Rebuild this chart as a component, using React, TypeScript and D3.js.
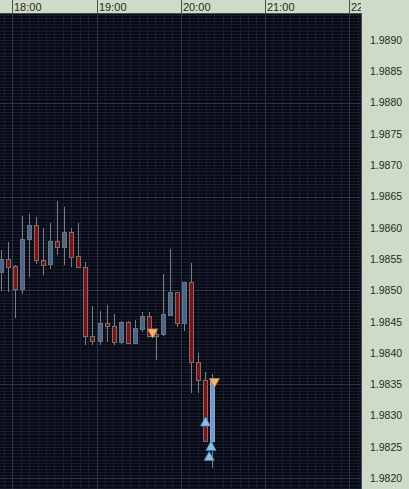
import React from "react";
import * as d3 from "d3";

const candleTimes = ["17:50","17:55","18:00","18:05","18:10","18:15","18:20","18:25","18:30","18:35","18:40","18:45","18:50","18:55","19:00","19:05","19:10","19:15","19:20","19:25","19:30","19:35","19:40","19:45","19:50","19:55","20:00","20:05","20:10","20:15","20:20"];
const opens = [1.98530,1.98550,1.98539,1.98503,1.98582,1.98604,1.98548,1.98542,1.98579,1.98570,1.98593,1.98555,1.98537,1.98427,1.98420,1.98448,1.98443,1.98417,1.98450,1.98416,1.98439,1.98459,1.98430,1.98430,1.98461,1.98497,1.98448,1.98513,1.98385,1.98357,1.98259];
const highs = [1.98565,1.98578,1.98540,1.98619,1.98622,1.98617,1.98600,1.98607,1.98643,1.98633,1.98600,1.98608,1.98545,1.98475,1.98467,1.98477,1.98462,1.98452,1.98452,1.98453,1.98465,1.98465,1.98438,1.98526,1.98566,1.98497,1.98514,1.98544,1.98400,1.98370,1.98367];
const lows = [1.98499,1.98498,1.98456,1.98494,1.98522,1.98543,1.98524,1.98535,1.98557,1.98540,1.98538,1.98536,1.98413,1.98413,1.98413,1.98418,1.98413,1.98414,1.98414,1.98414,1.98434,1.98426,1.98389,1.98427,1.98460,1.98442,1.98436,1.98337,1.98337,1.98258,1.98217];
const closes = [1.98550,1.98538,1.98503,1.98582,1.98604,1.98548,1.98541,1.98579,1.98570,1.98593,1.98554,1.98537,1.98427,1.98420,1.98448,1.98443,1.98417,1.98450,1.98416,1.98440,1.98459,1.98428,1.98429,1.98462,1.98497,1.98448,1.98513,1.98385,1.98357,1.98259,1.98357];

const sellTimes = ["19:40:00","20:24:00"];
const sellPrices = [1.98424,1.98345];
const buyTimes = ["20:17:40","20:21:36","20:20:18"];
const buyPrices = [1.98298,1.98259,1.98243];

const hourLabels = ["18:00","19:00","20:00","21:00","22:00"];
const priceLabels = [1.9890,1.9885,1.9880,1.9875,1.9870,1.9865,1.9860,1.9855,1.9850,1.9845,1.9840,1.9835,1.9830,1.9825,1.9820];

const W = 409, H = 489;
const plotRight = 361;
const plotTop = 13;

const parseT = (s: string) => {
  const p = s.split(":").map(Number);
  return new Date(2020, 0, 1, p[0], p[1], p[2] || 0);
};

export default function App() {
  const pxPerMin = 84.2 / 60;
  const x = d3.scaleTime()
    .domain([parseT("18:00"), parseT("22:00")])
    .range([12.3, 12.3 + 240 * pxPerMin]);
  const y = d3.scaleLinear().domain([1.9820, 1.9890]).range([478.3, 40]);

  const vLines: { x: number; bold: boolean }[] = [];
  const t0 = parseT("17:00").getTime();
  for (let k = 0; k <= 60; k++) {
    const t = new Date(t0 + k * 6 * 60000);
    const xx = x(t);
    if (xx < 0 || xx > plotRight) continue;
    vLines.push({ x: Math.round(xx) + 0.5, bold: k % 10 === 0 });
  }
  const hLines: { y: number; bold: boolean }[] = [];
  for (let k = -40; k <= 200; k++) {
    const p = 1.9820 + k * 0.00005;
    const yy = y(p);
    if (yy < plotTop || yy > H) continue;
    hLines.push({ y: Math.round(yy) + 0.5, bold: ((k % 30) + 30) % 30 === 0 });
  }

  const candles = candleTimes.map((t, i) => ({
    t: parseT(t), o: opens[i], h: highs[i], l: lows[i], c: closes[i], i,
  }));
  const last = candles.length - 1;

  const tri = (cx: number, tipY: number, down: boolean) => {
    const w = 5, h = 9;
    return down
      ? `M${cx - w},${tipY - h} L${cx + w},${tipY - h} L${cx},${tipY} Z`
      : `M${cx - w},${tipY + h} L${cx + w},${tipY + h} L${cx},${tipY} Z`;
  };

  const font = "'Liberation Sans', Arial, sans-serif";

  return (
    <svg width={W} height={H} style={{ position: "fixed", left: 0, top: 0, display: "block" }}>
      <defs>
        <clipPath id="plotClip">
          <rect x={0} y={plotTop} width={plotRight} height={H - plotTop} />
        </clipPath>
        <clipPath id="headClip">
          <rect x={0} y={0} width={plotRight} height={plotTop} />
        </clipPath>
      </defs>
      <rect x={0} y={0} width={W} height={H} fill="#cddbc8" />
      <rect x={0} y={plotTop} width={plotRight} height={H - plotTop} fill="#090912" />
      <g clipPath="url(#plotClip)" shapeRendering="crispEdges">
        {hLines.filter(l => !l.bold).map((l, i) => (
          <line key={"h" + i} x1={0} x2={plotRight} y1={l.y} y2={l.y} stroke="#171d30" />
        ))}
        {vLines.filter(l => !l.bold).map((l, i) => (
          <line key={"v" + i} x1={l.x} x2={l.x} y1={plotTop} y2={H} stroke="#171d30" />
        ))}
        {hLines.filter(l => l.bold).map((l, i) => (
          <line key={"hb" + i} x1={0} x2={plotRight} y1={l.y} y2={l.y} stroke="#2a3652" />
        ))}
        {vLines.filter(l => l.bold).map((l, i) => (
          <line key={"vb" + i} x1={l.x} x2={l.x} y1={plotTop} y2={H} stroke="#2a3652" />
        ))}
        {candles.map(d => {
          const cx = Math.round(x(d.t) + 3);
          const bull = d.c >= d.o;
          const top = Math.round(y(Math.max(d.o, d.c)));
          const bot = Math.round(y(Math.min(d.o, d.c)));
          const fill = d.i === last ? "#6f98d4" : bull ? "#4b6593" : "#8e0b0b";
          const stroke = d.i === last ? "#8fa6c0" : "#6c7476";
          return (
            <g key={"c" + d.i}>
              <line x1={cx + 0.5} x2={cx + 0.5} y1={Math.round(y(d.h))} y2={Math.round(y(d.l))} stroke="#7a8080" />
              <rect x={cx - 1.5} y={top + 0.5} width={4} height={Math.max(bot - top, 2)} fill={fill} stroke={stroke} />
            </g>
          );
        })}
      </g>
      <g clipPath="url(#plotClip)">
        {sellTimes.map((t, i) => (
          <path key={"s" + i} d={tri(x(parseT(t)), y(sellPrices[i]), true)} fill="#f5b466" stroke="#b88a55" strokeWidth={0.8} />
        ))}
        {buyTimes.map((t, i) => (
          <path key={"b" + i} d={tri(x(parseT(t)), y(buyPrices[i]), false)} fill="#7fc3f2" stroke="#4f86b0" strokeWidth={0.8} />
        ))}
      </g>
      <g clipPath="url(#headClip)">
        {hourLabels.map((h, i) => {
          const xx = Math.round(x(parseT(h))) + 0.5;
          return (
            <g key={"hl" + i}>
              <line x1={xx} x2={xx} y1={0} y2={plotTop} stroke="#46524a" shapeRendering="crispEdges" />
              <text x={xx + 1.5} y={10.5} fontFamily={font} fontSize={11} fill="#2b2b22">{h}</text>
            </g>
          );
        })}
      </g>
      <line x1={0} x2={plotRight} y1={plotTop + 0.5} y2={plotTop + 0.5} stroke="#46524a" shapeRendering="crispEdges" />
      <line x1={plotRight + 0.5} x2={plotRight + 0.5} y1={plotTop} y2={H} stroke="#46524a" shapeRendering="crispEdges" />
      {priceLabels.map((p, i) => (
        <text key={"p" + i} x={370} y={y(p)} dy="0.36em" fontFamily={font} fontSize={10.5} fill="#2b2b22">{p.toFixed(4)}</text>
      ))}
    </svg>
  );
}
